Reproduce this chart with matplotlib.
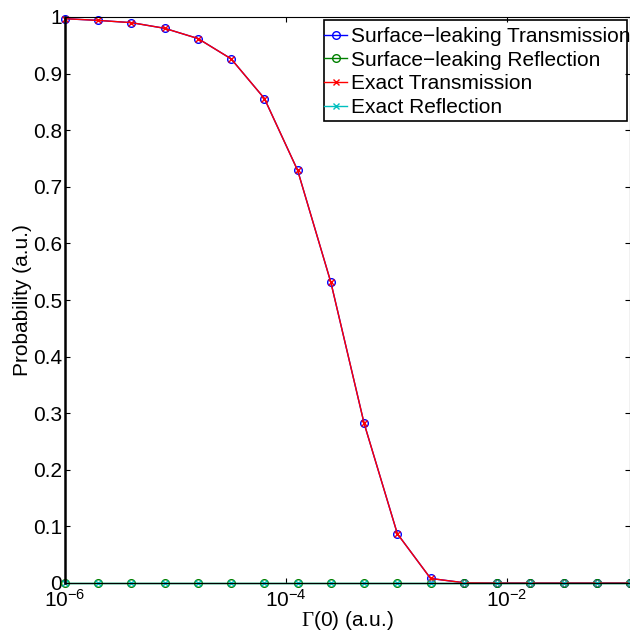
import numpy as np
import matplotlib

matplotlib.use("Agg")
import matplotlib.pyplot as plt
from matplotlib.patches import Rectangle
from matplotlib.ticker import NullLocator, FixedLocator

plt.rcParams["font.family"] = ["Liberation Sans", "DejaVu Sans"]
plt.rcParams["mathtext.fontset"] = "custom"
plt.rcParams["mathtext.rm"] = "Liberation Sans"
plt.rcParams["mathtext.cal"] = "Liberation Serif"

# Gamma(0) sampled on a factor-of-two grid starting at 1e-6
gamma0 = [1e-6 * 2.0 ** k for k in range(18)]
sl_trans = [0.997, 0.994, 0.990, 0.980, 0.962, 0.926, 0.856, 0.729, 0.531,
            0.282, 0.087, 0.008, 0.0005, 0.0, 0.0, 0.0, 0.0, 0.0]
sl_refl = [0.0] * 18
ex_trans = [0.997, 0.994, 0.990, 0.980, 0.962, 0.926, 0.856, 0.729, 0.531,
            0.282, 0.087, 0.008, 0.0005, 0.0, 0.0, 0.0, 0.0, 0.0]
ex_refl = [0.0] * 18

labels = ["Surface\u2212leaking Transmission", "Surface\u2212leaking Reflection",
          "Exact Transmission", "Exact Reflection"]

FS = 15
W, H = 630, 633
fig = plt.figure(figsize=(W / 100, H / 100), dpi=100)
# axes end right at the picture's edge (original is cropped there)
ax = fig.add_axes([65 / W, 50 / H, 565 / W, 566 / H])

ax.plot(gamma0, sl_trans, "-o", color="#0000ff", mfc="none", ms=5.5, mew=1.0, lw=1.0, clip_on=False)
ax.plot(gamma0, sl_refl, "-o", color="#008000", mfc="none", ms=5.5, mew=1.0, lw=1.0, clip_on=False)
ax.plot(gamma0, ex_trans, "-x", color="#ff0000", ms=4.5, mew=1.0, lw=1.0, clip_on=False)
ax.plot(gamma0, ex_refl, "-x", color="#00bfbf", ms=4.5, mew=1.0, lw=1.0, clip_on=False)

ax.set_xscale("log")
ax.set_xlim(gamma0[0], gamma0[-1])
ax.set_ylim(0, 1)
ax.xaxis.set_major_locator(FixedLocator([1e-6, 1e-4, 1e-2]))
ax.xaxis.set_minor_locator(NullLocator())
ax.set_yticks(np.arange(0, 1.01, 0.1))
ax.set_yticklabels(["0"] + [f"{v:.1f}" for v in np.arange(0.1, 0.95, 0.1)] + ["1"])

ax.tick_params(direction="in", length=3.6, width=0.8, top=True, right=True,
               labelsize=FS, pad=2, colors="black")
ax.tick_params(axis="x", pad=4)
ax.spines["left"].set_linewidth(1.8)
ax.spines["top"].set_linewidth(0.8)
ax.spines["bottom"].set_linewidth(0.8)

ax.set_ylabel("Probability (a.u.)", fontsize=FS, labelpad=1)
ax.set_xlabel(r"$\mathcal{\Gamma}$(0) (a.u.)", fontsize=FS, labelpad=-1)

handles = ax.get_lines()
leg = fig.legend(handles, labels, loc="upper left", bbox_to_anchor=(322 / W, 1 - 25 / H),
                 frameon=False, fontsize=FS, handlelength=1.1, handletextpad=0.2,
                 labelspacing=0.22, borderaxespad=0, borderpad=0.1)
fig.add_artist(Rectangle((324 / W, 1 - 121 / H), 303 / W, 101 / H, transform=fig.transFigure,
                         fill=False, edgecolor="black", linewidth=1.2))

fig.savefig("out.png", dpi=100)
